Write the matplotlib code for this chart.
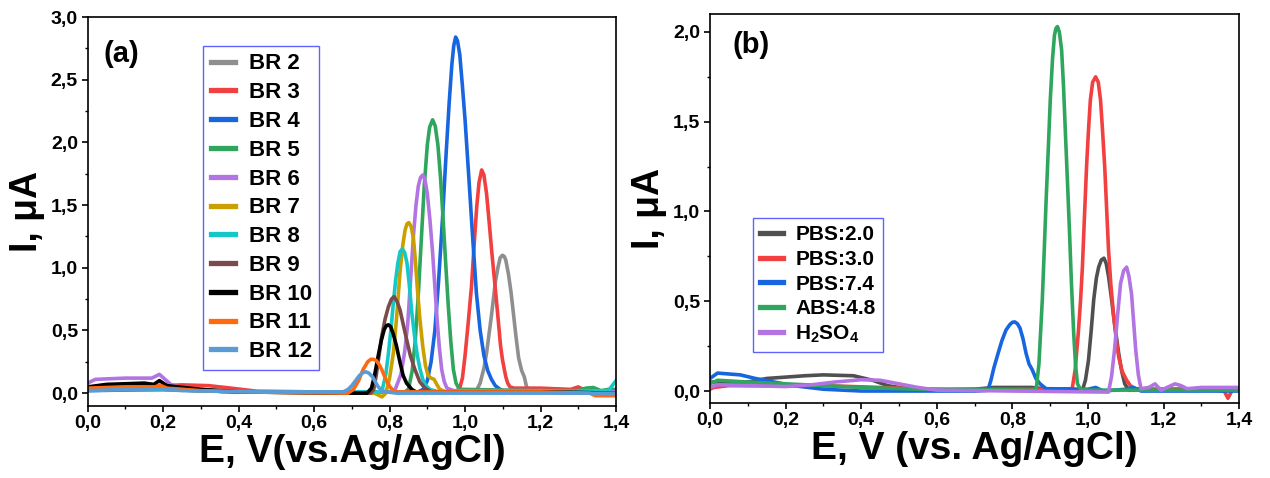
import numpy as np
import matplotlib
matplotlib.use('Agg')
import matplotlib.pyplot as plt
from matplotlib.ticker import MultipleLocator, FuncFormatter

plt.rcParams['font.family'] = ['Liberation Sans', 'DejaVu Sans']
plt.rcParams['font.weight'] = 'bold'
plt.rcParams['mathtext.fontset'] = 'custom'
plt.rcParams['mathtext.rm'] = 'Liberation Sans:bold'
plt.rcParams['mathtext.bf'] = 'Liberation Sans:bold'
plt.rcParams['mathtext.default'] = 'bf'

# ---------------- panel (a): BR buffers ----------------
br_labels = ['BR 2', 'BR 3', 'BR 4', 'BR 5', 'BR 6', 'BR 7', 'BR 8', 'BR 9', 'BR 10', 'BR 11', 'BR 12']
br_colors = ['#8f8f8f', '#f23f3f', '#1766e0', '#2fa65e', '#b274e2', '#c9a000',
             '#14c8c8', '#7b4b4b', '#000000', '#ff6a10', '#5a9bd5']

br2_x = [0.0, 0.2, 0.4, 0.8, 1.0, 1.03, 1.04, 1.05, 1.057, 1.07, 1.08, 1.087, 1.093, 1.099, 1.104, 1.108,
         1.115, 1.122, 1.128, 1.135, 1.142, 1.15, 1.157, 1.163, 1.17, 1.2, 1.3, 1.4]
br2_y = [0.03, 0.03, 0.01, 0.01, 0.01, 0.02, 0.08, 0.2, 0.32, 0.62, 0.88, 1.0, 1.08, 1.10, 1.09, 1.06,
         0.95, 0.8, 0.64, 0.45, 0.28, 0.18, 0.13, 0.05, 0.02, 0.02, 0.02, 0.01]

br3_x = [0.0, 0.02, 0.1, 0.2, 0.25, 0.32, 0.38, 0.45, 0.6, 0.8, 0.97, 0.985, 0.993, 1.0, 1.008, 1.017,
         1.024, 1.031, 1.037, 1.044, 1.05, 1.057, 1.064, 1.071, 1.08, 1.088, 1.094, 1.099, 1.104, 1.108,
         1.113, 1.119, 1.13, 1.2, 1.28, 1.30, 1.32, 1.38, 1.4]
br3_y = [0.04, 0.05, 0.05, 0.06, 0.066, 0.06, 0.04, 0.015, 0.01, 0.01, 0.01, 0.03, 0.12, 0.30, 0.55, 0.85,
         1.18, 1.49, 1.68, 1.78, 1.74, 1.59, 1.36, 1.12, 0.84, 0.58, 0.38, 0.27, 0.19, 0.13,
         0.08, 0.05, 0.04, 0.04, 0.03, 0.05, 0.02, 0.0, -0.02]

br4_x = [0.0, 0.2, 0.4, 0.8, 0.875, 0.889, 0.9, 0.91, 0.92, 0.93, 0.94, 0.95, 0.958, 0.965, 0.97, 0.975,
         0.98, 0.986, 0.993, 1.0, 1.01, 1.02, 1.03, 1.04, 1.05, 1.06, 1.07, 1.08, 1.093, 1.11, 1.2, 1.4]
br4_y = [0.02, 0.03, 0.01, 0.01, 0.01, 0.03, 0.10, 0.25, 0.50, 0.90, 1.38, 1.92, 2.32, 2.62, 2.77, 2.84,
         2.81, 2.70, 2.45, 2.18, 1.72, 1.25, 0.80, 0.50, 0.30, 0.18, 0.11, 0.06, 0.03, 0.01, 0.01, 0.0]

br5_x = [0.0, 0.2, 0.4, 0.8, 0.84, 0.85, 0.86, 0.868, 0.876, 0.884, 0.892, 0.9, 0.906, 0.914, 0.921,
         0.928, 0.935, 0.942, 0.949, 0.955, 0.962, 0.969, 0.976, 0.985, 1.0, 1.2, 1.3, 1.32, 1.34, 1.36,
         1.38, 1.4]
br5_y = [0.03, 0.03, 0.01, 0.01, 0.01, 0.03, 0.18, 0.42, 0.78, 1.22, 1.66, 1.98, 2.12, 2.18, 2.13,
         1.98, 1.72, 1.38, 1.02, 0.72, 0.42, 0.19, 0.08, 0.03, 0.03, 0.02, 0.02, 0.04, 0.045, 0.02,
         0.03, 0.03]

br6_x = [0.0, 0.02, 0.1, 0.17, 0.19, 0.22, 0.25, 0.3, 0.4, 0.8, 0.815, 0.83, 0.84, 0.848, 0.856, 0.863,
         0.87, 0.876, 0.882, 0.888, 0.894, 0.9, 0.907, 0.914, 0.92, 0.926, 0.932, 0.938, 0.945, 0.952,
         0.97, 1.2, 1.4]
br6_y = [0.08, 0.11, 0.12, 0.12, 0.15, 0.07, 0.04, 0.02, 0.01, 0.01, 0.03, 0.15, 0.33, 0.55, 0.92, 1.25,
         1.50, 1.65, 1.72, 1.74, 1.70, 1.59, 1.38, 1.12, 0.85, 0.58, 0.36, 0.19, 0.09, 0.04,
         0.02, 0.02, 0.01]

br7_x = [0.0, 0.2, 0.4, 0.76, 0.78, 0.79, 0.80, 0.81, 0.818, 0.828, 0.835, 0.841, 0.846, 0.851, 0.857,
         0.863, 0.868, 0.873, 0.88, 0.888, 0.895, 0.902, 0.91, 0.918, 0.925, 0.933, 0.95, 1.2, 1.4]
br7_y = [0.03, 0.03, 0.01, 0.0, -0.03, 0.0, 0.12, 0.32, 0.58, 0.98, 1.18, 1.30, 1.35, 1.36, 1.33,
         1.24, 1.07, 0.86, 0.6, 0.37, 0.22, 0.14, 0.12, 0.11, 0.07, 0.03, 0.01, 0.01, 0.0]

br8_x = [0.0, 0.2, 0.4, 0.77, 0.78, 0.79, 0.797, 0.804, 0.81, 0.816, 0.822, 0.828, 0.834, 0.84, 0.846,
         0.852, 0.859, 0.866, 0.873, 0.88, 0.888, 0.896, 0.907, 0.93, 1.2, 1.38, 1.4]
br8_y = [0.03, 0.03, 0.01, 0.01, 0.02, 0.15, 0.32, 0.52, 0.72, 0.90, 1.04, 1.13, 1.15, 1.12, 1.04,
         0.87, 0.64, 0.46, 0.31, 0.2, 0.11, 0.06, 0.03, 0.01, 0.01, 0.02, 0.1]

br9_x = [0.0, 0.2, 0.4, 0.74, 0.75, 0.758, 0.765, 0.772, 0.779, 0.788, 0.797, 0.805, 0.812, 0.82, 0.828,
         0.836, 0.845, 0.855, 0.867, 0.88, 0.894, 0.91, 1.2, 1.4]
br9_y = [0.04, 0.05, 0.01, 0.0, 0.0, 0.03, 0.15, 0.30, 0.45, 0.59, 0.69, 0.75, 0.77, 0.73, 0.66,
         0.55, 0.43, 0.30, 0.19, 0.09, 0.04, 0.01, 0.01, 0.0]

br10_x = [0.0, 0.05, 0.15, 0.175, 0.19, 0.21, 0.3, 0.4, 0.7, 0.74, 0.752, 0.76, 0.77, 0.778, 0.786,
          0.792, 0.797, 0.803, 0.81, 0.818, 0.828, 0.836, 0.845, 0.859, 0.87, 1.2, 1.4]
br10_y = [0.05, 0.07, 0.08, 0.07, 0.10, 0.06, 0.03, 0.01, 0.0, 0.0, 0.04, 0.14, 0.30, 0.42, 0.51,
          0.54, 0.545, 0.53, 0.47, 0.38, 0.24, 0.14, 0.08, 0.03, 0.01, 0.01, 0.0]

br11_x = [0.0, 0.1, 0.18, 0.19, 0.21, 0.3, 0.4, 0.69, 0.704, 0.718, 0.73, 0.742, 0.75, 0.757, 0.765,
          0.772, 0.779, 0.79, 0.801, 0.81, 0.82, 1.2, 1.33, 1.345, 1.4]
br11_y = [0.04, 0.05, 0.05, 0.065, 0.04, 0.02, 0.01, 0.0, 0.03, 0.10, 0.19, 0.25, 0.27, 0.27, 0.26,
          0.23, 0.19, 0.11, 0.05, 0.02, 0.01, 0.01, 0.0, -0.02, -0.02]

br12_x = [0.0, 0.1, 0.19, 0.25, 0.4, 0.677, 0.69, 0.70, 0.71, 0.72, 0.73, 0.737, 0.745, 0.755, 0.762,
          0.77, 0.78, 0.79, 0.82, 1.2, 1.4]
br12_y = [0.02, 0.03, 0.035, 0.02, 0.013, 0.01, 0.03, 0.06, 0.10, 0.14, 0.165, 0.17, 0.16, 0.13, 0.09,
          0.05, 0.02, 0.01, 0.0, 0.0, 0.0]

# ---------------- panel (b): other electrolytes ----------------
b_labels = ['PBS:2.0', 'PBS:3.0', 'PBS:7.4', 'ABS:4.8', r'H$_2$SO$_4$']
b_colors = ['#505050', '#f23f3f', '#1766e0', '#2fa65e', '#b274e2']

pbs2_x = [0.0, 0.1, 0.15, 0.25, 0.3, 0.38, 0.43, 0.47, 0.53, 0.6, 0.7, 0.75, 0.85, 0.9, 0.95, 0.985,
          0.993, 1.001, 1.008, 1.015, 1.022, 1.028, 1.035, 1.042, 1.048, 1.054, 1.061, 1.068, 1.075,
          1.081, 1.089, 1.097, 1.108, 1.2, 1.4]
pbs2_y = [0.05, 0.05, 0.07, 0.085, 0.09, 0.085, 0.06, 0.03, 0.01, 0.005, 0.01, 0.02, 0.02, 0.01, 0.0, 0.004,
          0.06, 0.17, 0.33, 0.51, 0.63, 0.69, 0.73, 0.74, 0.71, 0.64, 0.53, 0.41, 0.30,
          0.21, 0.11, 0.04, 0.004, 0.01, 0.01]

pbs3_x = [0.0, 0.01, 0.05, 0.3, 0.45, 0.6, 0.9, 0.958, 0.966, 0.974, 0.98, 0.985, 0.99, 0.996, 1.001,
          1.006, 1.012, 1.02, 1.027, 1.033, 1.038, 1.044, 1.049, 1.054, 1.06, 1.068, 1.075, 1.081, 1.09,
          1.102, 1.112, 1.124, 1.2, 1.3, 1.36, 1.37, 1.38, 1.4]
pbs3_y = [0.01, 0.02, 0.03, 0.03, 0.02, 0.01, 0.01, 0.013, 0.12, 0.32, 0.50, 0.69, 0.95, 1.25, 1.45,
          1.62, 1.72, 1.75, 1.72, 1.62, 1.46, 1.25, 1.02, 0.79, 0.60, 0.41, 0.28, 0.19, 0.11,
          0.06, 0.03, 0.013, 0.01, 0.01, 0.0, -0.04, 0.0, 0.02]

pbs74_x = [0.0, 0.02, 0.05, 0.08, 0.12, 0.17, 0.22, 0.3, 0.4, 0.7, 0.735, 0.743, 0.751, 0.762, 0.772,
           0.783, 0.793, 0.8, 0.806, 0.813, 0.82, 0.828, 0.836, 0.844, 0.852, 0.862, 0.873, 0.889, 1.0,
           1.02, 1.04, 1.1, 1.12, 1.14, 1.4]
pbs74_y = [0.07, 0.10, 0.095, 0.09, 0.07, 0.05, 0.03, 0.01, 0.0, 0.0, 0.004, 0.06, 0.13, 0.21, 0.28,
           0.34, 0.37, 0.383, 0.385, 0.375, 0.35, 0.29, 0.21, 0.15, 0.12, 0.07, 0.04, 0.013, 0.01,
           0.02, 0.0, 0.01, 0.02, 0.0, 0.0]

abs48_x = [0.0, 0.01, 0.02, 0.1, 0.2, 0.3, 0.4, 0.55, 0.855, 0.863, 0.87, 0.879, 0.884, 0.889, 0.895,
           0.9, 0.906, 0.911, 0.915, 0.919, 0.924, 0.93, 0.935, 0.94, 0.946, 0.951, 0.956, 0.962, 0.967,
           0.972, 0.98, 1.0, 1.4]
abs48_y = [0.04, 0.05, 0.06, 0.05, 0.04, 0.03, 0.02, 0.01, 0.005, 0.013, 0.15, 0.51, 0.78, 1.06, 1.36,
           1.62, 1.85, 1.98, 2.02, 2.03, 2.00, 1.90, 1.70, 1.44, 1.14, 0.88, 0.60, 0.32, 0.14,
           0.04, 0.01, 0.005, 0.005]

h2so4_x = [0.0, 0.02, 0.1, 0.2, 0.27, 0.33, 0.4, 0.45, 0.5, 0.55, 0.6, 0.8, 1.054, 1.062, 1.07, 1.078,
           1.086, 1.094, 1.102, 1.108, 1.115, 1.12, 1.126, 1.133, 1.14, 1.161, 1.177, 1.193, 1.209, 1.23,
           1.246, 1.262, 1.3, 1.4]
h2so4_y = [0.02, 0.035, 0.03, 0.025, 0.035, 0.05, 0.063, 0.06, 0.04, 0.02, 0.005, 0.0, -0.006, 0.08, 0.23, 0.42,
           0.60, 0.67, 0.69, 0.64, 0.54, 0.40, 0.23, 0.09, 0.013, 0.02, 0.04, 0.004, 0.02, 0.04,
           0.03, 0.013, 0.02, 0.02]

br_x = [br2_x, br3_x, br4_x, br5_x, br6_x, br7_x, br8_x, br9_x, br10_x, br11_x, br12_x]
br_y = [br2_y, br3_y, br4_y, br5_y, br6_y, br7_y, br8_y, br9_y, br10_y, br11_y, br12_y]
b_x = [pbs2_x, pbs3_x, pbs74_x, abs48_x, h2so4_x]
b_y = [pbs2_y, pbs3_y, pbs74_y, abs48_y, h2so4_y]


def comma_fmt(v, pos):
    return ('%.1f' % v).replace('.', ',')


def style_axes(ax, ymajor):
    ax.set_xlim(0.0, 1.4)
    ax.xaxis.set_major_locator(MultipleLocator(0.2))
    ax.xaxis.set_minor_locator(MultipleLocator(0.1))
    ax.yaxis.set_major_locator(MultipleLocator(ymajor))
    ax.yaxis.set_minor_locator(MultipleLocator(ymajor / 2))
    ax.xaxis.set_major_formatter(FuncFormatter(comma_fmt))
    ax.yaxis.set_major_formatter(FuncFormatter(comma_fmt))
    ax.tick_params(which='major', direction='out', length=4, width=1.2, labelsize=14, pad=3)
    ax.tick_params(which='minor', direction='out', length=2.5, width=1.0)
    for lab in ax.get_xticklabels() + ax.get_yticklabels():
        lab.set_fontweight('bold')
    for sp in ax.spines.values():
        sp.set_linewidth(1.2)


def make_legend(ax, x0, y0, fs, spacing):
    leg = ax.legend(loc='upper left', bbox_to_anchor=(x0 / W, 1 - y0 / H), bbox_transform=fig.transFigure,
                    frameon=True, fancybox=False, edgecolor='#3a3aff', fontsize=fs,
                    handlelength=1.1, handletextpad=0.6, labelspacing=spacing, borderpad=0.35,
                    borderaxespad=0)
    leg.get_frame().set_linewidth(1.0)
    for t in leg.get_texts():
        t.set_fontweight('bold')
    for h in leg.get_lines():
        h.set_linewidth(3.8)
    return leg


fig = plt.figure(figsize=(12.7, 4.78), dpi=100)
W, H = 1270.0, 478.0
ax1 = fig.add_axes([87.7 / W, 1 - 405.7 / H, (616 - 87.7) / W, (405.7 - 17) / H])
ax2 = fig.add_axes([710 / W, 1 - 402.7 / H, (1239.3 - 710) / W, (402.7 - 14) / H])

for xs, ys, c, lab in zip(br_x, br_y, br_colors, br_labels):
    ax1.plot(xs, ys, color=c, lw=2.6, label=lab, solid_joinstyle='round')
ax1.set_ylim(-0.1, 3.0)
style_axes(ax1, 0.5)
ax1.set_xlabel('E, V(vs.Ag/AgCl)', fontsize=28, fontweight='bold', labelpad=1)
ax1.set_ylabel('I, μA', fontsize=27, fontweight='bold', labelpad=4)
ax1.text(121 / W, 1 - 54 / H, '(a)', transform=fig.transFigure, fontsize=21, fontweight='bold',
         ha='center', va='center')
make_legend(ax1, 203, 45.7, 16, 0.35)

for xs, ys, c, lab in zip(b_x, b_y, b_colors, b_labels):
    ax2.plot(xs, ys, color=c, lw=2.6, label=lab, solid_joinstyle='round')
ax2.set_ylim(-0.065, 2.10)
style_axes(ax2, 0.5)
ax2.set_xlabel('E, V (vs. Ag/AgCl)', fontsize=28, fontweight='bold', labelpad=1)
ax2.set_ylabel('I, μA', fontsize=27, fontweight='bold', labelpad=4)
ax2.text(751 / W, 1 - 45 / H, '(b)', transform=fig.transFigure, fontsize=21, fontweight='bold',
         ha='center', va='center')
make_legend(ax2, 752.7, 218, 15, 0.27)

fig.savefig('out.png', dpi=100)
